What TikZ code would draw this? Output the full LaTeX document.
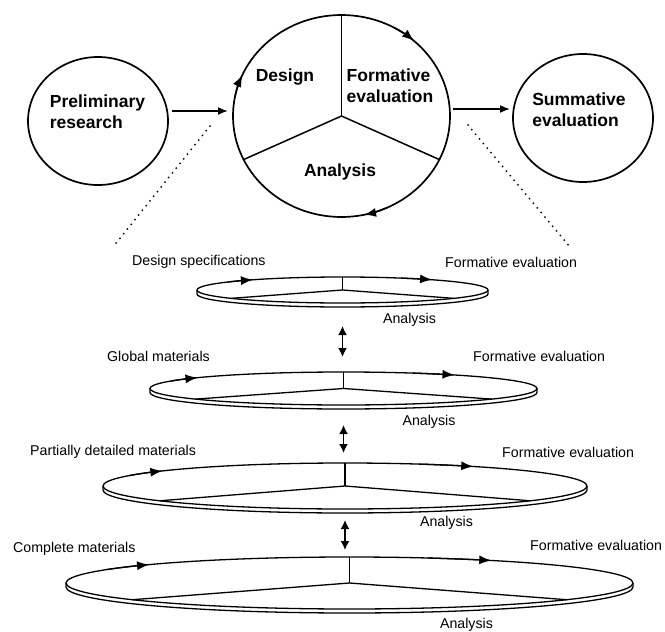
\documentclass[tikz,border=0pt]{standalone}
\usepackage{fontspec}
\setmainfont{Liberation Sans}
\usetikzlibrary{shapes.geometric, arrows.meta, calc}

\tikzset{
  bubble/.style={draw, ellipse, line width=1.7pt, inner sep=0pt, outer sep=0pt},
  bubbleline/.style={line width=1.5pt},
  bigtext/.style={font=\fontsize{17.5}{21.5}\selectfont\bfseries, align=left, inner sep=0pt},
  smalltext/.style={font=\fontsize{14.2}{17}\selectfont, inner sep=0pt},
  flowarrow/.style={-{Latex[length=10pt,width=8pt]}, line width=1.6pt},
  face/.style={draw, ellipse, line width=1.3pt, inner sep=0pt, outer sep=0pt},
  rimline/.style={line width=1.3pt},
  cycletip/.style={-{Latex[length=12pt,width=9pt]}, line width=1.3pt},
  linkarrow/.style={{Latex[length=9pt,width=9pt]}-{Latex[length=9pt,width=9pt]}, line width=1.6pt},
  zoomline/.style={line width=2pt, dash pattern=on 0pt off 6pt, line cap=round},
}

% one flattened cycle disc: name, centre x, centre y (downwards), x radius, y radius,
% angles of the two direction marks on its rear edge
\newcommand\platter[7]{%
  \node[face, minimum width=#4*2, minimum height=#5*2] (#1) at (#2,-#3) {};
  \draw[rimline] (#1.west) -- ++(0,-4) arc[start angle=180, end angle=360, x radius=#4, y radius=#5] -- (#1.east);
  \draw[rimline] (#1.center) -- (#1.north);
  \draw[rimline] (#1.center) -- ($(#1.center)+(220:#4 and #5)$);
  \draw[rimline] (#1.center) -- ($(#1.center)+(320:#4 and #5)$);
  \draw[cycletip] ($(#1.center)+(#6+14:#4 and #5)$) arc[start angle=#6+14, end angle=#6, x radius=#4, y radius=#5];
  \draw[cycletip] ($(#1.center)+(#7+14:#4 and #5)$) arc[start angle=#7+14, end angle=#7, x radius=#4, y radius=#5];
}

\begin{document}
\begin{tikzpicture}[x=1pt, y=1pt]
  \fill[white] (0,0) rectangle (665,-632);
  \useasboundingbox (0,0) rectangle (665,-632);

  % top row: the three phases
  \node[bubble, minimum width=140, minimum height=128] (prelim) at (98,-121) {};
  \node[bigtext] (prelimtext) at (97.5,-111.5) {Preliminary\\research};

  \node[bubble, minimum width=217, minimum height=202] (cycle) at (341.5,-116) {};
  \draw[bubbleline] (cycle.center) -- (cycle.north);
  \draw[bubbleline] (cycle.center) -- (cycle.204);
  \draw[bubbleline] (cycle.center) -- (cycle.336);
  \node[bigtext] (design) at (285,-77) {Design};
  \node[bigtext] (formative) at (390,-85.5) {Formative\\evaluation};
  \node[bigtext] (analysis) at (340,-172) {Analysis};
  \draw[cycletip, line width=1.5pt] ($(cycle.center)+(61:108.5 and 101)$) arc[start angle=61, end angle=48, x radius=108.5, y radius=101];
  \draw[cycletip, line width=1.5pt] ($(cycle.center)+(169:108.5 and 101)$) arc[start angle=169, end angle=156, x radius=108.5, y radius=101];
  \draw[cycletip, line width=1.5pt] ($(cycle.center)+(295:108.5 and 101)$) arc[start angle=295, end angle=282, x radius=108.5, y radius=101];

  \node[bubble, minimum width=140, minimum height=128] (summative) at (583,-118) {};
  \node[bigtext] (summativetext) at (579,-109.5) {Summative\\evaluation};

  \draw[flowarrow] ($(prelim.east)+(4,10)$) -- ($(cycle.west)+(-5,5)$);
  \draw[flowarrow] ($(cycle.east)+(3,7)$) -- ($(summative.west)+(-3,9)$);

  % dotted lines opening out to the detailed cycles
  \coordinate (zl1) at (210,-126);
  \coordinate (zl2) at (113,-247);
  \coordinate (zr1) at (468,-125);
  \coordinate (zr2) at (570,-247);
  \draw[zoomline] (zl1) -- (zl2);
  \draw[zoomline] (zr1) -- (zr2);

  % the four successive cycles
  \platter{disc1}{342.5}{290}{145.5}{13}{128}{52}
  \platter{disc2}{343.5}{388.5}{193.5}{16.5}{139}{55}
  \platter{disc3}{345}{486}{242}{23}{139}{58}
  \platter{disc4}{349.5}{583}{283.5}{26}{135}{60}

  \node[smalltext, anchor=west] (d1l) at (132,-262) {Design specifications};
  \node[smalltext, anchor=west] (d1r) at (445,-262) {Formative evaluation};
  \node[smalltext] (d1a) at (409.5,-320) {Analysis};

  \node[smalltext, anchor=west] (d2l) at (107,-356) {Global materials};
  \node[smalltext, anchor=west] (d2r) at (473,-356) {Formative evaluation};
  \node[smalltext] (d2a) at (429,-422) {Analysis};

  \node[smalltext, anchor=west] (d3l) at (30,-452) {Partially detailed materials};
  \node[smalltext, anchor=west] (d3r) at (502,-452) {Formative evaluation};
  \node[smalltext] (d3a) at (446.5,-523) {Analysis};

  \node[smalltext, anchor=west] (d4l) at (13,-549) {Complete materials};
  \node[smalltext, anchor=west] (d4r) at (530,-545) {Formative evaluation};
  \node[smalltext] (d4a) at (466.5,-625) {Analysis};

  \draw[linkarrow] ([yshift=-23pt]disc1.south) -- ([yshift=15pt]disc1.south |- disc2.north);
  \draw[linkarrow] ([yshift=-20pt]disc2.south) -- ([yshift=10pt]disc2.south |- disc3.north);
  \draw[linkarrow] ([yshift=-11pt]disc3.south) -- ([yshift=7pt]disc3.south |- disc4.north);
\end{tikzpicture}
\end{document}
